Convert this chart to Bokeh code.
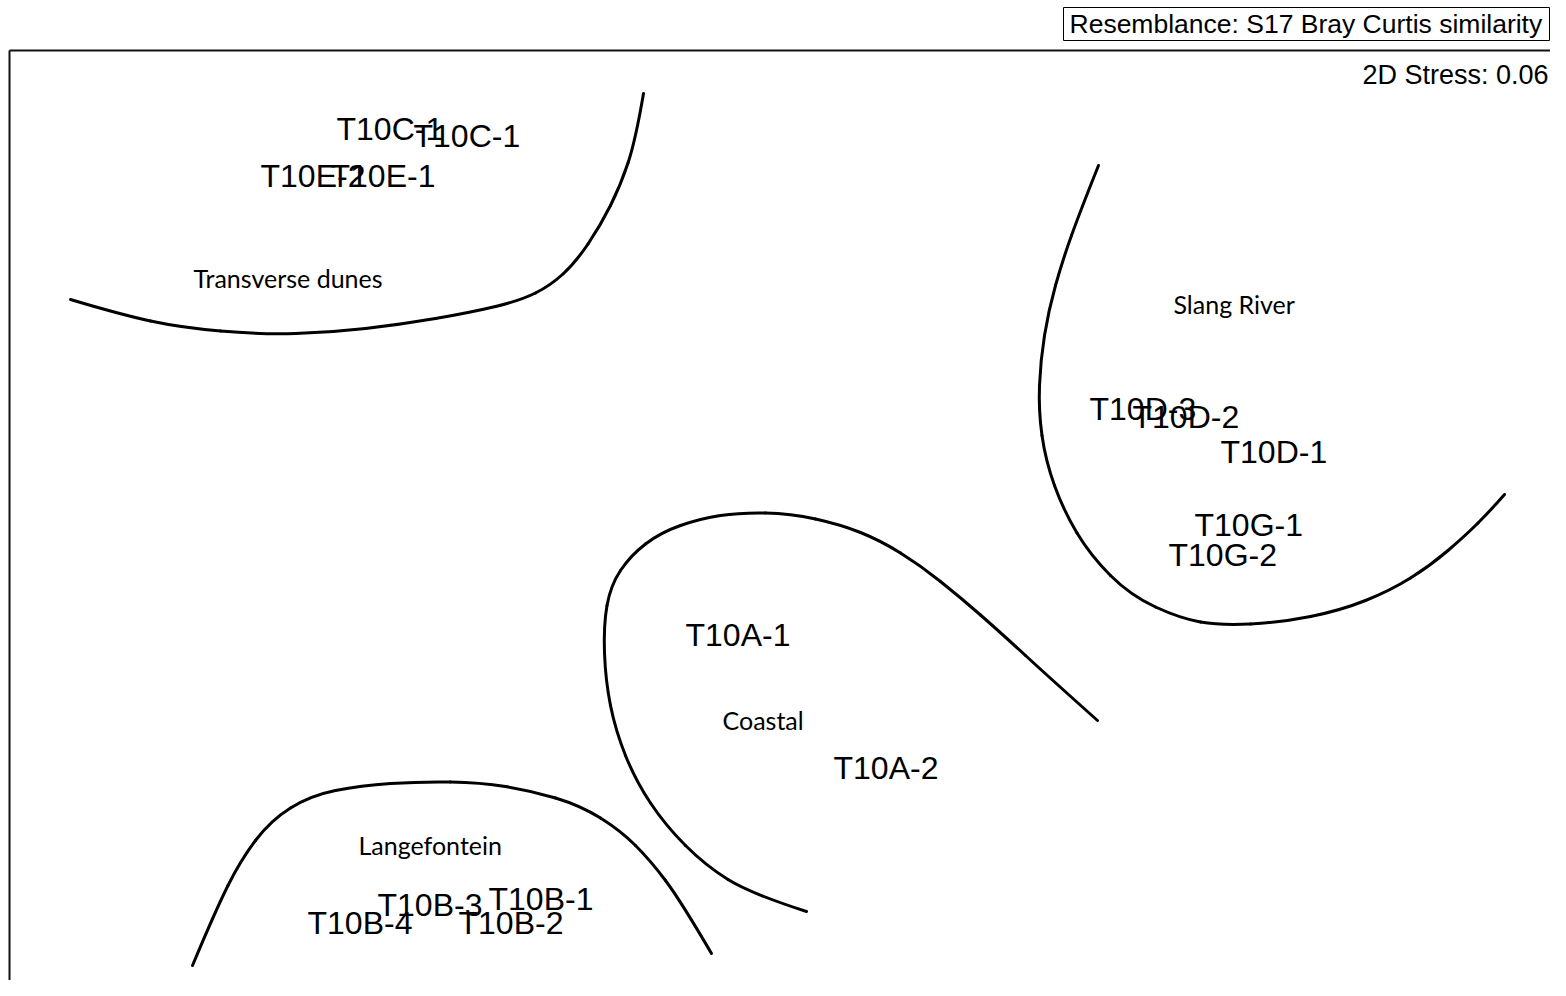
from bokeh.plotting import figure
from bokeh.models import Range1d, ColumnDataSource
from bokeh.core.properties import value
from bokeh.embed import file_html
from bokeh.resources import INLINE

# ---- data (positions, screen-like units, y grows downward) ----
sample_labels = ["T10C-1", "T10C-1", "T10E-2", "T10E-1", "T10D-3", "T10D-2", "T10D-1",
                 "T10G-1", "T10G-2", "T10A-1", "T10A-2", "T10B-3", "T10B-1", "T10B-4", "T10B-2"]
sample_x = [336, 413, 260, 330, 1089, 1132, 1220, 1194, 1168, 685, 833, 377, 488, 307, 458]
sample_y = [137, 144, 184, 184, 417, 425, 460, 533, 563, 643, 776, 913, 907, 931, 931]

group_labels = ["Transverse dunes", "Slang River", "Coastal", "Langefontein"]
group_x = [193, 1173, 722, 358]
group_y = [286, 312, 728, 853]

curve_dunes_x = [70, 120, 180, 260, 330, 400, 470, 520, 550, 575, 600, 620, 635, 643]
curve_dunes_y = [299, 314, 327, 334, 332, 324, 312, 300, 285, 262, 225, 185, 140, 93]

curve_river_x = [1098, 1080, 1062, 1048, 1040, 1038, 1045, 1063, 1090, 1130, 1180, 1220, 1280, 1340, 1390, 1430, 1465, 1490, 1504]
curve_river_y = [165, 210, 260, 310, 360, 410, 460, 510, 555, 595, 618, 625, 622, 610, 590, 565, 535, 510, 494]

curve_coast_x = [1097, 1050, 1000, 960, 920, 880, 840, 790, 740, 700, 660, 630, 610, 603, 605, 615, 635, 665, 705, 750, 806]
curve_coast_y = [720, 678, 632, 597, 565, 540, 524, 513, 512, 518, 532, 555, 585, 625, 680, 730, 780, 825, 865, 893, 911]

curve_lange_x = [192, 215, 240, 270, 310, 360, 420, 480, 530, 580, 620, 650, 680, 711]
curve_lange_y = [965, 910, 860, 820, 795, 785, 781, 782, 790, 805, 830, 860, 900, 953]

stress_text = "2D Stress: 0.06"
resemblance_text = "Resemblance: S17 Bray Curtis similarity"

W, H = 1550, 980
p = figure(width=W, height=H, output_backend="svg", toolbar_location=None,
           x_range=Range1d(0, W), y_range=Range1d(H, 0),
           min_border=0, outline_line_color=None)
p.axis.visible = False
p.grid.visible = False
p.background_fill_color = "white"
p.border_fill_color = "white"

TEXT_SHIFT = -9

# frame of the MDS plot
p.line([9, 9], [50, 2000], line_color="#111111", line_width=2)
p.line([9, 3000], [50, 50], line_color="#111111", line_width=2)

# resemblance box
p.quad(left=[1063], right=[1549], top=[7], bottom=[40], fill_color="white",
       line_color="black", line_width=1)
p.text(x=[1069], y=[32], text=[resemblance_text], text_font=value("Liberation Sans"),
       text_font_size="26.5px", text_color="black", text_baseline="alphabetic",
       text_align="left", y_offset=TEXT_SHIFT)
p.text(x=[1548], y=[83], text=[stress_text], text_font=value("Liberation Sans"),
       text_font_size="27px", text_color="black", text_baseline="alphabetic",
       text_align="right", y_offset=TEXT_SHIFT)


def smooth_curve(fig, xs, ys):
    # smooth rendering with quadratic Bezier pieces through mid-points
    n = len(xs)
    mx = [(xs[i] + xs[i + 1]) / 2 for i in range(n - 1)]
    my = [(ys[i] + ys[i + 1]) / 2 for i in range(n - 1)]
    x0, y0, x1, y1, cx, cy = [], [], [], [], [], []
    for i in range(1, n - 1):
        sx, sy = (xs[0], ys[0]) if i == 1 else (mx[i - 1], my[i - 1])
        ex, ey = (xs[-1], ys[-1]) if i == n - 2 else (mx[i], my[i])
        x0.append(sx); y0.append(sy); x1.append(ex); y1.append(ey)
        cx.append(xs[i]); cy.append(ys[i])
    fig.quadratic(x0=x0, y0=y0, x1=x1, y1=y1, cx=cx, cy=cy,
                  line_color="black", line_width=3, line_cap="round")


for cxs, cys in [(curve_dunes_x, curve_dunes_y), (curve_river_x, curve_river_y),
                 (curve_coast_x, curve_coast_y), (curve_lange_x, curve_lange_y)]:
    smooth_curve(p, cxs, cys)

src = ColumnDataSource(dict(x=sample_x, y=sample_y, t=sample_labels))
p.text(x="x", y="y", text="t", source=src, text_font=value("Liberation Sans"),
       text_font_size="32px", text_color="black", text_baseline="alphabetic",
       text_align="left", y_offset=TEXT_SHIFT)

gsrc = ColumnDataSource(dict(x=group_x, y=group_y, t=group_labels))
p.text(x="x", y="y", text="t", source=gsrc, text_font=value("Lato"),
       text_font_size="25px", text_color="black", text_baseline="alphabetic",
       text_align="left", y_offset=TEXT_SHIFT)

open("out.html", "w").write(file_html(p, INLINE))
